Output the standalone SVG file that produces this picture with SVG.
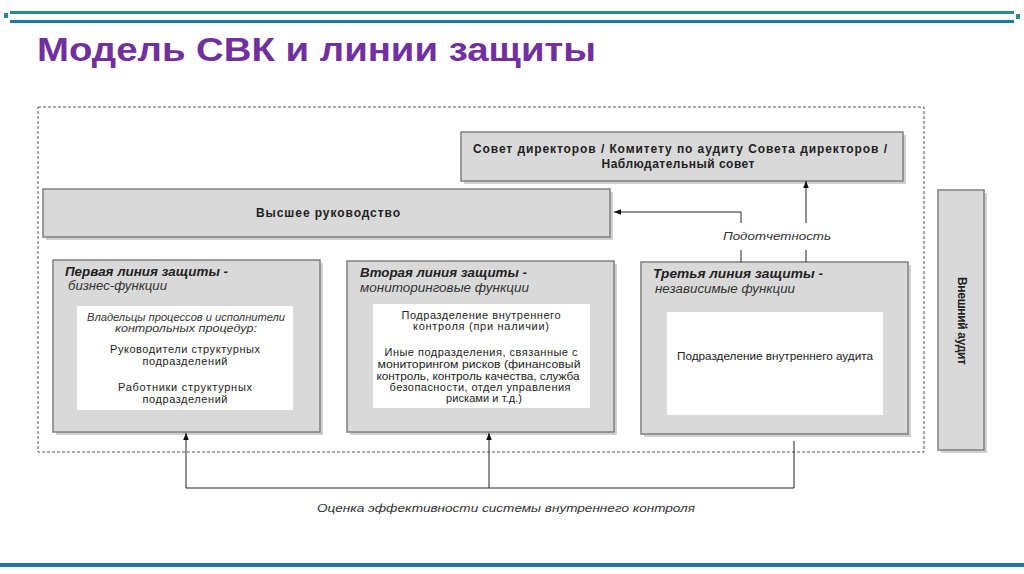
<svg xmlns="http://www.w3.org/2000/svg" width="1024" height="574" viewBox="0 0 1024 574">
<defs>
<style>
.box{fill:#d9d9d9;stroke:#7f7f7f;stroke-width:1.5}
.shadow{fill:#b0b0b0;opacity:0.6}
.inner{fill:#ffffff}
.t{font-family:"Liberation Sans",Arial,sans-serif;font-size:11px;fill:#222;text-anchor:middle}
.tb{font-family:"Liberation Sans",Arial,sans-serif;font-size:12px;font-weight:bold;fill:#222;text-anchor:middle}
.hd{font-family:"Liberation Sans",Arial,sans-serif;font-size:13px;font-weight:bold;font-style:italic;fill:#222}
.sub{font-family:"Liberation Sans",Arial,sans-serif;font-size:12px;font-style:italic;fill:#333}
.it{font-family:"Liberation Sans",Arial,sans-serif;font-size:11px;font-style:italic;fill:#333;text-anchor:middle}
.ln{fill:none;stroke:#222;stroke-width:1}
</style>
<marker id="ah" viewBox="0 0 10 10" refX="10" refY="5" markerWidth="7" markerHeight="7" orient="auto-start-reverse" markerUnits="userSpaceOnUse">
<path d="M0,1 L10,5 L0,9 z" fill="#111"/>
</marker>
</defs>
<rect width="1024" height="574" fill="#ffffff"/>
<g id="decor">
<rect x="10" y="11" width="1004" height="3" fill="#2a8a8a"/>
<rect x="10" y="20" width="1004" height="3" fill="#1f78b0"/>
<rect x="4" y="13" width="4" height="5" fill="#2a8a8a"/>
<rect x="1016" y="14" width="4" height="5" fill="#2a8a8a"/>
<rect x="0" y="563" width="1024" height="4" fill="#1f78b0"/>
</g>
<text id="title" x="37" y="61" font-family="'Liberation Sans',Arial,sans-serif" font-size="34" font-weight="bold" fill="#7030a0" textLength="559" lengthAdjust="spacingAndGlyphs">Модель СВК и линии защиты</text>
<rect id="frame" x="38" y="107" width="886" height="345" fill="none" stroke="#555" stroke-width="1" stroke-dasharray="3,2"/>
<g id="council">
<rect class="shadow" x="464" y="135" width="442" height="49"/>
<rect class="box" x="461" y="132" width="442" height="49"/>
<text class="tb" x="680" y="153" textLength="414">Совет директоров / Комитету по аудиту Совета директоров /</text>
<text class="tb" x="678" y="168" textLength="153">Наблюдательный  совет</text>
</g>
<g id="management">
<rect class="shadow" x="46" y="192" width="567" height="48"/>
<rect class="box" x="43" y="189" width="567" height="48"/>
<text class="tb" x="328" y="217" textLength="144">Высшее руководство</text>
</g>
<g id="line1">
<rect class="shadow" x="56" y="263" width="267" height="172"/>
<rect class="box" x="53" y="260" width="267" height="172"/>
<text class="hd" x="65" y="276" textLength="163" lengthAdjust="spacingAndGlyphs">Первая линия защиты -</text>
<text class="sub" x="68" y="290" textLength="99" lengthAdjust="spacingAndGlyphs">бизнес-функции</text>
<rect class="inner" x="77" y="306" width="216" height="104"/>
<text class="it" x="186" y="321" textLength="198" lengthAdjust="spacingAndGlyphs">Владельцы процессов и исполнители</text>
<text class="it" x="186" y="332" textLength="142" lengthAdjust="spacingAndGlyphs">контрольных процедур:</text>
<text class="t" x="185" y="353" textLength="150">Руководители структурных</text>
<text class="t" x="185" y="365" textLength="85">подразделений</text>
<text class="t" x="185" y="391" textLength="134">Работники структурных</text>
<text class="t" x="185" y="403" textLength="85">подразделений</text>
</g>
<g id="line2">
<rect class="shadow" x="350" y="264" width="267" height="171"/>
<rect class="box" x="347" y="261" width="267" height="171"/>
<text class="hd" x="360" y="277" textLength="167" lengthAdjust="spacingAndGlyphs">Вторая линия защиты -</text>
<text class="sub" x="360" y="292" textLength="169" lengthAdjust="spacingAndGlyphs">мониторинговые  функции</text>
<rect class="inner" x="373" y="304" width="217" height="104"/>
<text class="t" x="481" y="319" textLength="159">Подразделение внутреннего</text>
<text class="t" x="481" y="330" textLength="136">контроля (при наличии)</text>
<text class="t" x="481" y="356" textLength="193">Иные подразделения, связанные с</text>
<text class="t" x="479" y="368" textLength="203" lengthAdjust="spacingAndGlyphs">мониторингом рисков (финансовый</text>
<text class="t" x="478" y="380" textLength="203" lengthAdjust="spacingAndGlyphs">контроль, контроль качества, служба</text>
<text class="t" x="480" y="391" textLength="181">безопасности, отдел управления</text>
<text class="t" x="484" y="402" textLength="76">рисками и т.д.)</text>
</g>
<g id="line3">
<rect class="shadow" x="644" y="265" width="267" height="172"/>
<rect class="box" x="641" y="262" width="267" height="172"/>
<text class="hd" x="653" y="278" textLength="170" lengthAdjust="spacingAndGlyphs">Третья линия защиты -</text>
<text class="sub" x="655" y="293" textLength="140" lengthAdjust="spacingAndGlyphs">независимые функции</text>
<rect class="inner" x="667" y="312" width="216" height="103"/>
<text class="t" x="775" y="360" textLength="196" lengthAdjust="spacingAndGlyphs">Подразделение внутреннего аудита</text>
</g>
<g id="external">
<rect class="shadow" x="941" y="193" width="46" height="260"/>
<rect class="box" x="938" y="190" width="46" height="260"/>
<text class="tb" transform="translate(958,321) rotate(90)" textLength="88">Внешний аудит</text>
</g>
<g id="connectors">
<polyline class="ln" points="741,223 741,212 614,212" marker-end="url(#ah)"/>
<line class="ln" x1="741" y1="250" x2="741" y2="262"/>
<line class="ln" x1="806" y1="223" x2="806" y2="181" marker-end="url(#ah)"/>
<line class="ln" x1="806" y1="250" x2="806" y2="262"/>
<text class="it" x="777" y="240" font-size="13.5" textLength="108" lengthAdjust="spacingAndGlyphs">Подотчетность</text>
<polyline class="ln" points="186,433 186,488 794,488 794,441" marker-start="url(#ah)"/>
<line class="ln" x1="489" y1="488" x2="489" y2="433" marker-end="url(#ah)"/>
<text class="it" x="506" y="512" font-size="13.5" textLength="378" lengthAdjust="spacingAndGlyphs">Оценка эффективности  системы внутреннего  контроля</text>
</g>
</svg>
